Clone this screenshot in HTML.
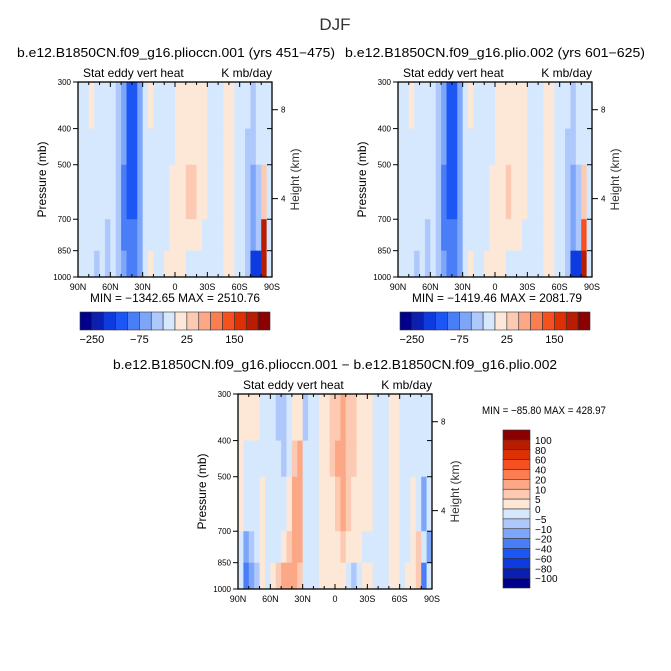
<!DOCTYPE html>
<html><head><meta charset="utf-8"><style>
body{margin:0;background:#fff}
svg{display:block;font-family:"Liberation Sans",sans-serif}
</style></head><body>
<svg id="c" width="671" height="671" viewBox="0 0 671 671" xmlns="http://www.w3.org/2000/svg">
<rect width="671" height="671" fill="#fff"/>
<text x="335" y="30" font-size="17" text-anchor="middle" fill="#333">DJF</text>
</svg>
<script>
// ---- data ----
const latEdges = [90,85,80,75,70,65,60,55,50,45,40,35,30,25,20,15,10,5,0,-5,-10,-15,-20,-25,-30,-35,-40,-45,-50,-55,-60,-65,-70,-75,-80,-85,-90];
const presEdges = [300,400,500,700,850,1000];
const topLevels = [-250,-200,-150,-100,-75,-50,-25,0,25,50,75,100,150,200,250];
const topLabels = ["-250","-75","25","150"];
const diffLevels = [-100,-80,-60,-40,-20,-10,-5,0,5,10,20,40,60,80,100];
const diffLabels = ["100","80","60","40","20","10","5","0","-5","-10","-20","-40","-60","-80","-100"];
const latTicks = ["90N","60N","30N","0","30S","60S","90S"];
const presTicks = [300,400,500,700,850,1000];
const heightTicks = [8,4];
const palette = ["#00008b","#0a1fb0","#0d3be0","#1c57f5","#4a7ef7","#7ea6f8","#aec8fb","#d6e8fd","#fde8d8","#fccab2","#fca887","#fb7d52","#f5501f","#dd3005","#b81d02","#8b0000"];
const fieldA = [
[-10,-10,8,-10,-10,-10,-10,-30,-60,-110,-110,-60,-10,5,-10,-10,-10,-10,5,10,10,10,8,5,-10,-10,-10,8,8,-10,-10,-10,-30,-10,-10,-10],
[-10,-10,-10,-10,-10,-10,-10,-30,-60,-110,-110,-60,-10,-5,-10,-10,-10,-5,5,10,15,15,10,5,-10,-10,-10,8,8,-10,-10,-30,-40,-10,-10,-10],
[-10,-10,-10,-10,-10,-10,-10,-30,-80,-110,-110,-60,-10,-10,-10,-10,-10,5,10,20,30,30,20,5,-10,-10,-10,8,8,-10,-10,-30,-60,-30,30,-10],
[-10,-10,-10,-10,-10,-30,-10,-30,-80,-100,-100,-60,-10,-10,-10,-10,-5,5,10,15,15,10,5,-10,-10,-10,-10,8,8,-10,-10,-30,-60,-30,200,-10],
[-10,-10,-10,-30,-10,-30,-10,-30,-60,-90,-90,-60,-10,5,-10,-10,5,10,10,5,-5,-10,-10,-10,-10,-10,-10,8,8,-10,-10,-30,-200,-200,200,-10]];
const fieldB = [
[-10,-10,8,-10,-10,-10,-10,-30,-60,-110,-110,-60,-10,5,-10,-10,-10,-10,5,10,10,10,8,5,-10,-10,-10,8,8,-10,-10,-10,-30,-10,-10,-10],
[-10,-10,-10,-10,-10,-10,-10,-30,-60,-110,-110,-60,-10,-5,-10,-10,-10,-5,5,10,12,12,10,5,-10,-10,-10,8,8,-10,-10,-30,-40,-10,-10,-10],
[-10,-10,-10,-10,-10,-10,-10,-30,-80,-110,-110,-60,-10,-10,-10,-10,-10,5,10,15,25,20,15,5,-10,-10,-10,8,8,-10,-10,-30,-60,-30,40,-10],
[-10,-10,-10,-10,-10,-30,-10,-30,-80,-100,-100,-60,-10,-10,-10,-10,-5,5,10,12,12,10,5,-10,-10,-10,-10,8,8,-10,-10,-30,-60,-30,120,-10],
[-10,-10,-10,-30,-10,-30,-10,-30,-60,-90,-90,-60,-10,5,-10,-10,5,10,10,5,-5,-10,-10,-10,-10,-10,-10,8,8,-10,-10,-30,-200,-200,200,-10]];
const fieldD = [
[3,3,3,3,-3,-3,-3,-8,-8,-3,3,3,-8,-3,-3,3,3,8,8,12,8,8,3,3,3,-3,-3,-3,3,3,-3,-3,-3,-3,-3,-3],
[3,-3,-3,-3,-3,-3,-3,-3,-8,-3,8,12,-3,-3,-3,3,3,8,12,12,8,8,3,3,3,-3,-3,-3,3,3,-3,-3,-3,-3,-3,-3],
[3,-3,-3,-3,3,-3,-3,-3,-3,3,12,12,-3,-3,-3,3,3,3,8,12,8,3,3,3,3,-3,-3,-3,3,3,-3,-3,3,-3,-20,-3],
[-3,-20,-8,-3,3,-3,-3,-3,3,8,12,12,-3,-3,-3,3,3,3,3,8,3,3,3,-3,-3,-3,-3,-3,3,3,-3,-3,3,8,-3,-20],
[-3,-40,-20,-8,3,-3,3,8,12,12,12,8,-3,-3,-3,3,3,3,3,3,-3,-8,-3,3,3,-3,-3,-3,3,3,-3,3,3,8,-40,-3]];

// ---- drawing ----
const NS="http://www.w3.org/2000/svg";
const svg=document.getElementById('c');
function mk(tag,attrs,parent){const e=document.createElementNS(NS,tag);for(const k in attrs)e.setAttribute(k,attrs[k]);(parent||svg).appendChild(e);return e;}
function colorFor(v,levels){let i=0;while(i<levels.length&&v>=levels[i])i++;return palette[i];}
const PW=194,PH=195;
function xScale(x0,lat){return x0+(90-lat)/180*PW;}
function yScale(y0,p){return y0+(Math.log(p)-Math.log(300))/(Math.log(1000)-Math.log(300))*PH;}
function hToP(h){return 1013.25*Math.pow(1-2.2558e-5*h*1000,5.256);}

function panel(x0,y0,field,levels,name){
  const g=mk('g',{});
  
  
  for(let r=0;r<field.length;r++){
    for(let c=0;c<field[r].length;c++){
      const xa=xScale(x0,latEdges[c]),xb=xScale(x0,latEdges[c+1]);
      const ya=yScale(y0,presEdges[r]),yb=yScale(y0,presEdges[r+1]);
      const rc=mk('rect',{x:xa,y:ya,width:xb-xa+0.4,height:yb-ya+0.4,fill:colorFor(field[r][c],levels)},g);
      
      
    }
  }
  const fr=mk('rect',{x:x0,y:y0,width:PW,height:PH,fill:'none',stroke:'#000','stroke-width':1.3},g);
  
  
  for(let lat=90;lat>=-90;lat-=10){
    const x=xScale(x0,lat);const major=lat%30===0;const L=major?5:3;
    mk('line',{x1:x,x2:x,y1:y0+PH,y2:y0+PH-L,stroke:'#000'},g);
    mk('line',{x1:x,x2:x,y1:y0,y2:y0+L,stroke:'#000'},g);
  }
  latTicks.forEach((t,i)=>{
    const x=xScale(x0,90-30*i);
    const tx=mk('text',{x:x,y:y0+PH+13,'font-size':9,'text-anchor':'middle'},g);tx.textContent=t;
    
    
  });
  presTicks.forEach(p=>{
    const y=yScale(y0,p);
    mk('line',{x1:x0-5,x2:x0,y1:y,y2:y,stroke:'#000'},g);
    mk('line',{x1:x0+PW,x2:x0+PW-5,y1:y,y2:y,stroke:'#000'},g);
    const tx=mk('text',{x:x0-7,y:y+3,'font-size':8,'text-anchor':'end'},g);tx.textContent=p;
    
    
  });
  heightTicks.forEach(h=>{
    const y=yScale(y0,hToP(h));
    mk('line',{x1:x0+PW,x2:x0+PW+6,y1:y,y2:y,stroke:'#000'},g);
    const tx=mk('text',{x:x0+PW+9,y:y+3,'font-size':8},g);tx.textContent=h;
    
    
  });
  let t=mk('text',{x:x0+5,y:y0-5,'font-size':12},g);t.textContent='Stat eddy vert heat';
  
  
  t=mk('text',{x:x0+PW,y:y0-5,'font-size':12,'text-anchor':'end'},g);t.textContent='K mb/day';
  
  
  t=mk('text',{x:x0-32,y:y0+PH/2,'font-size':12,'text-anchor':'middle',transform:`rotate(-90 ${x0-32} ${y0+PH/2})`},g);t.textContent='Pressure (mb)';
  
  
  t=mk('text',{x:x0+PW+27,y:y0+PH/2,'font-size':12,'text-anchor':'middle',fill:'#333',transform:`rotate(-90 ${x0+PW+27} ${y0+PH/2})`},g);t.textContent='Height (km)';
  
  
}
function hbar(x0,y0,name){
  const g=mk('g',{});
  
  
  const w=190/16;
  palette.forEach((c,i)=>{
    const r=mk('rect',{x:x0+i*w,y:y0,width:w,height:18,fill:c,stroke:'#333','stroke-width':0.6},g);
    
    
  });
  topLabels.forEach((l,i)=>{
    const t=mk('text',{x:x0+(1+4*i)*w,y:y0+31,'font-size':11,'text-anchor':'middle'},g);t.textContent=l.replace('-','\u2212');
    
    
  });
}
function sub(x,y,txt,len,name,size){
  const t=mk('text',{x:x,y:y,'font-size':size||12.5,textLength:len,lengthAdjust:'spacingAndGlyphs'});t.textContent=txt;
  
  
}
sub(17,57,'b.e12.B1850CN.f09_g16.plioccn.001 (yrs 451\u2212475)',318,'left-subtitle');
sub(345,57,'b.e12.B1850CN.f09_g16.plio.002 (yrs 601\u2212625)',300,'right-subtitle');
sub(113,369,'b.e12.B1850CN.f09_g16.plioccn.001 \u2212 b.e12.B1850CN.f09_g16.plio.002',444,'diff-subtitle');
panel(78,82,fieldA,topLevels,'panel-plioccn');
panel(398,82,fieldB,topLevels,'panel-plio');
panel(238,394,fieldD,diffLevels,'panel-difference');
sub(90,302,'MIN = \u22121342.65   MAX = 2510.76',170,'left-minmax',11.5);
sub(412,302,'MIN = \u22121419.46   MAX = 2081.79',170,'right-minmax',11.5);
sub(482,414,'MIN = \u221285.80   MAX = 428.97',124,'diff-minmax',11);
hbar(80,312,'left-colorbar');
hbar(400,312,'right-colorbar');
(function(){
  const g=mk('g',{});
  
  
  const h=158/16;
  for(let i=0;i<16;i++){
    const r=mk('rect',{x:503,y:430+i*h,width:27,height:h,fill:palette[15-i],stroke:'#333','stroke-width':0.6},g);
    
    
  }
  diffLabels.forEach((l,i)=>{
    const t=mk('text',{x:535,y:430+(i+1)*h+4,'font-size':10},g);t.textContent=l.replace('-','\u2212');
    
    
  });
})();
</script>
</body></html>
